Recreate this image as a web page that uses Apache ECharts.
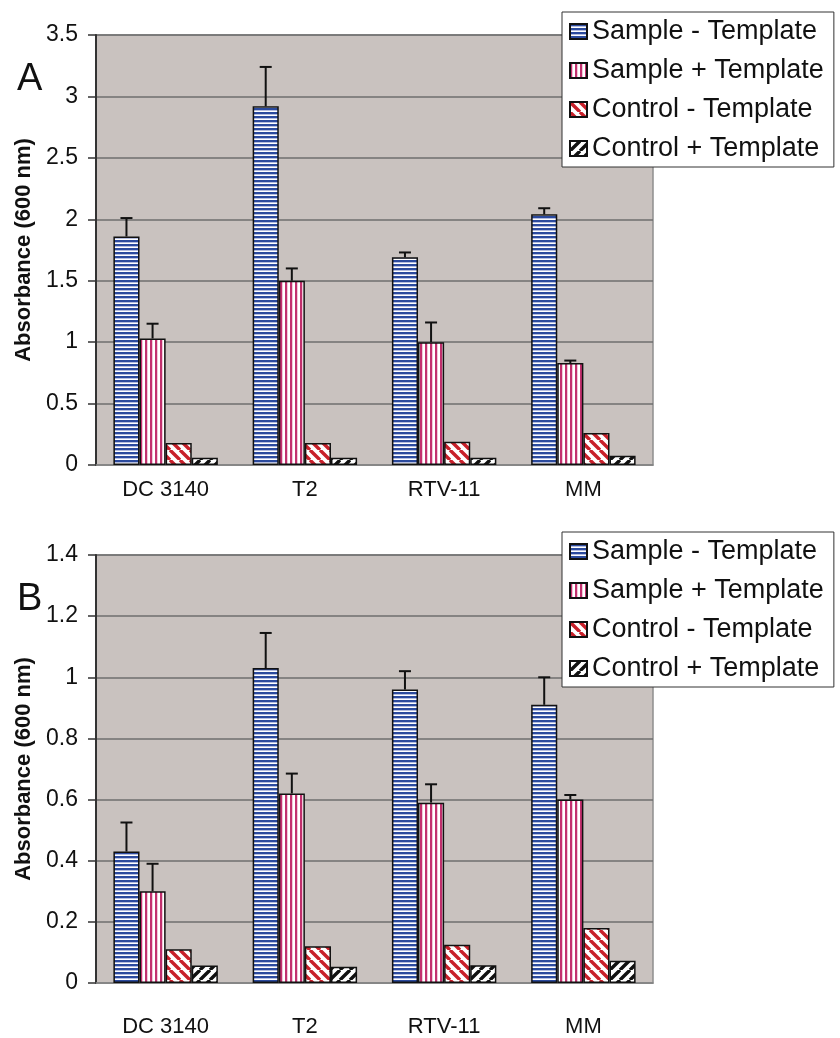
<!DOCTYPE html>
<html>
<head>
<meta charset="utf-8">
<script src="https://cdn.jsdelivr.net/npm/echarts@6/dist/echarts.min.js"></script>
<style>
html,body{margin:0;padding:0;background:#fff;}
#chart{width:840px;height:1038px;}
</style>
</head>
<body>
<div id="chart"></div>
<script>
// ---- data ----
const categories = ['DC 3140', 'T2', 'RTV-11', 'MM'];
const seriesNames = ['Sample - Template', 'Sample + Template', 'Control - Template', 'Control + Template'];

// Panel A
const aSampleMinus = [1.86, 2.92, 1.69, 2.04];
const aSampleMinusErr = [0.15, 0.32, 0.04, 0.05];
const aSamplePlus = [1.03, 1.50, 1.00, 0.83];
const aSamplePlusErr = [0.12, 0.10, 0.16, 0.02];
const aControlMinus = [0.18, 0.18, 0.19, 0.26];
const aControlPlus = [0.06, 0.06, 0.06, 0.075];

// Panel B
const bSampleMinus = [0.43, 1.03, 0.96, 0.91];
const bSampleMinusErr = [0.095, 0.115, 0.06, 0.09];
const bSamplePlus = [0.30, 0.62, 0.59, 0.60];
const bSamplePlusErr = [0.09, 0.065, 0.06, 0.015];
const bControlMinus = [0.11, 0.12, 0.125, 0.18];
const bControlPlus = [0.057, 0.053, 0.058, 0.073];

const yAxisA = {min: 0, max: 3.5, interval: 0.5};
const yAxisB = {min: 0, max: 1.4, interval: 0.2};

// ---- patterns ----
function makePattern(w, h, draw) {
  const c = document.createElement('canvas');
  c.width = w; c.height = h;
  const ctx = c.getContext('2d');
  ctx.fillStyle = '#ffffff';
  ctx.fillRect(0, 0, w, h);
  draw(ctx, w, h);
  return {image: c, repeat: 'repeat'};
}
const patBlue = makePattern(4, 4, (ctx) => {
  ctx.fillStyle = '#2b4a9e'; ctx.fillRect(0, 0, 4, 2);
  ctx.fillStyle = '#b4bde0'; ctx.fillRect(0, 2, 4, 1);
});
const patPink = makePattern(5, 5, (ctx) => {
  ctx.fillStyle = '#c2306e'; ctx.fillRect(0, 0, 2, 5);
  ctx.fillStyle = '#f0c8d8'; ctx.fillRect(2, 0, 1, 5);
});
function diag(color, dir) {
  return makePattern(10, 10, (ctx, w, h) => {
    ctx.strokeStyle = color; ctx.lineWidth = 3.4;
    ctx.beginPath();
    for (let k = -2; k <= 2; k++) {
      if (dir > 0) { ctx.moveTo(k * w, 0); ctx.lineTo(k * w + w, h); }
      else { ctx.moveTo(k * w + w, 0); ctx.lineTo(k * w, h); }
    }
    ctx.stroke();
  });
}
const patRed = diag('#c8202a', 1);
const patBlack = diag('#111111', -1);
const patterns = [patBlue, patPink, patRed, patBlack];

const FONT = '"Liberation Sans", Arial, sans-serif';
const CAT_GAP = 0.25;

function barSeries(i, data, ax) {
  return {
    type: 'bar', name: seriesNames[i], data: data,
    xAxisIndex: ax, yAxisIndex: ax,
    barGap: '0%', barCategoryGap: (CAT_GAP * 100) + '%',
    itemStyle: {color: patterns[i], borderColor: '#111', borderWidth: 1.5},
    emphasis: {disabled: true},
    animation: false
  };
}
function errSeries(i, vals, errs, ax) {
  return {
    type: 'custom', name: 'err' + ax + i,
    xAxisIndex: ax, yAxisIndex: ax,
    data: vals.map((v, k) => [k, v, errs[k]]),
    encode: {x: 0, y: 1},
    z: 5, animation: false, silent: true,
    renderItem: function (params, api) {
      const k = api.value(0), v = api.value(1), e = api.value(2);
      const band = api.size([1, 0])[0];
      const bw = band * (1 - CAT_GAP) / 4;
      const p0 = api.coord([k, v]);
      const p1 = api.coord([k, v + e]);
      const x = p0[0] + (i - 1.5) * bw;
      const st = {stroke: '#111', lineWidth: 2};
      return {
        type: 'group',
        children: [
          {type: 'line', shape: {x1: x, y1: p0[1], x2: x, y2: p1[1]}, style: st},
          {type: 'line', shape: {x1: x - 6, y1: p1[1], x2: x + 6, y2: p1[1]}, style: st}
        ]
      };
    }
  };
}

function yAx(ax, range) {
  return {
    type: 'value', gridIndex: ax,
    min: range.min, max: range.max, interval: range.interval,
    name: 'Absorbance (600 nm)', nameLocation: 'middle', nameGap: 60,
    nameTextStyle: {fontFamily: FONT, fontWeight: 'bold', fontSize: 22, color: '#111'},
    axisLine: {show: true, lineStyle: {color: '#333', width: 2}},
    axisTick: {show: true, inside: false, length: 8, lineStyle: {color: '#333', width: 1.5}},
    axisLabel: {fontFamily: FONT, fontSize: 23, color: '#111', margin: 18},
    splitLine: {show: true, lineStyle: {color: '#6e6e6e', width: 1.5}}
  };
}
function xAx(ax, margin) {
  return {
    type: 'category', gridIndex: ax, data: categories,
    axisLine: {show: true, lineStyle: {color: '#8a8a8a', width: 1.5}},
    axisTick: {show: false},
    axisLabel: {fontFamily: FONT, fontSize: 22, color: '#111', margin: margin, interval: 0}
  };
}
function legend(top) {
  return {
    data: seriesNames, orient: 'vertical', left: 562, top: top,
    padding: [6, 10, 5, 7], itemGap: 12, itemWidth: 17, itemHeight: 15, itemTextGap: 10,
    icon: 'rect',
    backgroundColor: '#fff', borderColor: '#333', borderWidth: 1, borderRadius: 0,
    selectedMode: false,
    textStyle: {fontFamily: FONT, fontSize: 27, color: '#111'}
  };
}

const chart = echarts.init(document.getElementById('chart'), null, {renderer: 'canvas'});
chart.setOption({
  animation: false,
  backgroundColor: '#ffffff',
  title: [
    {text: 'A', left: 12, top: 56, textStyle: {fontFamily: FONT, fontSize: 38, fontWeight: 'normal', color: '#111'}},
    {text: 'B', left: 12, top: 576, textStyle: {fontFamily: FONT, fontSize: 38, fontWeight: 'normal', color: '#111'}}
  ],
  legend: [legend(12), legend(532)],
  grid: [
    {left: 96, width: 557, top: 35, height: 430, show: true, backgroundColor: '#c9c2bf', borderColor: '#8f8f8f', borderWidth: 1.5},
    {left: 96, width: 557, top: 555, height: 431, show: true, backgroundColor: '#c9c2bf', borderColor: '#8f8f8f', borderWidth: 1.5}
  ],
  xAxis: [xAx(0, 14), xAx(1, 33)],
  yAxis: [yAx(0, yAxisA), yAx(1, yAxisB)],
  series: [
    barSeries(0, aSampleMinus, 0), barSeries(1, aSamplePlus, 0), barSeries(2, aControlMinus, 0), barSeries(3, aControlPlus, 0),
    errSeries(0, aSampleMinus, aSampleMinusErr, 0), errSeries(1, aSamplePlus, aSamplePlusErr, 0),
    barSeries(0, bSampleMinus, 1), barSeries(1, bSamplePlus, 1), barSeries(2, bControlMinus, 1), barSeries(3, bControlPlus, 1),
    errSeries(0, bSampleMinus, bSampleMinusErr, 1), errSeries(1, bSamplePlus, bSamplePlusErr, 1)
  ]
});
</script>
</body>
</html>
